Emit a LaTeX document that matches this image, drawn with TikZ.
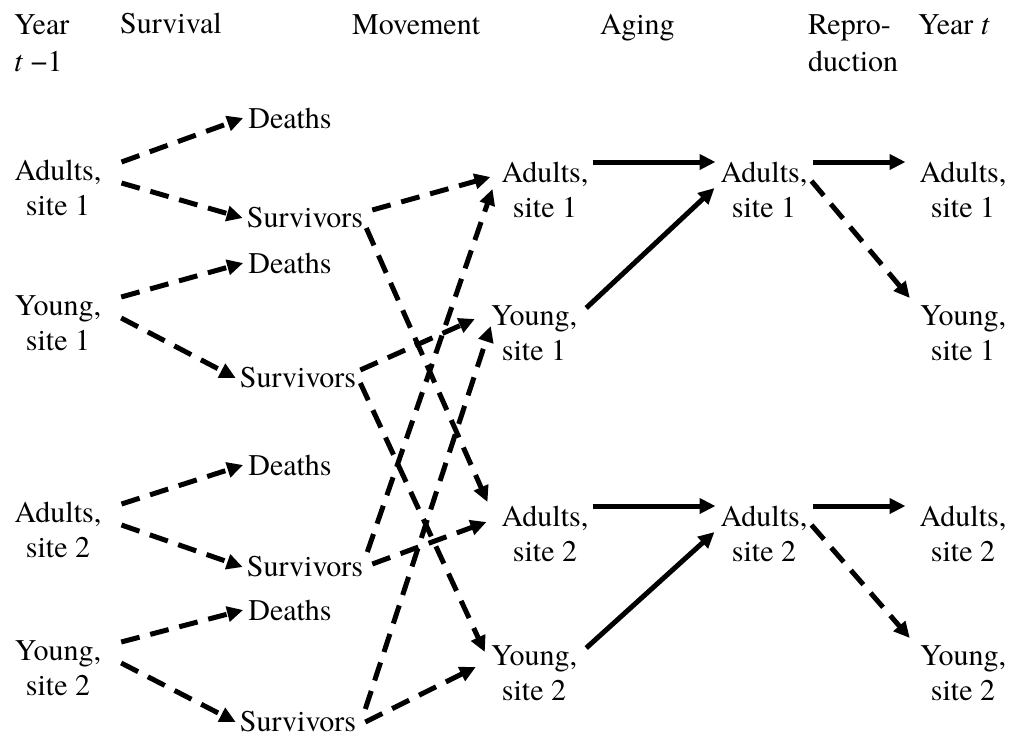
\documentclass[tikz,border=0pt]{standalone}
\usepackage{fontspec}
\setmainfont{texgyretermes-regular.otf}[ItalicFont=texgyretermes-italic.otf]
\usetikzlibrary{arrows.meta}

\begin{document}
\begin{tikzpicture}[x=1pt,y=-1pt,
    lbl/.style={font=\fontsize{30}{35}\selectfont, align=center, inner sep=0pt},
    hdr/.style={font=\fontsize{30}{37}\selectfont, align=left, inner sep=0pt, anchor=north west},
    flow/.style={line width=5pt, -{Triangle[length=16pt,width=15pt]}},
    dflow/.style={flow, dash pattern=on 19pt off 11pt}
  ]
  \useasboundingbox (0,0) rectangle (1012,737);

  % Column headings
  \node[hdr] (hprev) at (14,14) {Year\\\textit{t} −1};
  \node[hdr] (hsurv) at (120,13) {Survival};
  \node[hdr] (hmove) at (352,14) {Movement};
  \node[hdr] (hage) at (600,14) {Aging};
  \node[hdr] (hrep) at (808,14) {Repro-\\duction};
  \node[hdr] (hnext) at (918,14) {Year \textit{t}};

  % Year t-1 and the survival step
  \foreach \i/\y/\who/\s/\yd/\xs/\ys in {1/188/Adults/1/118/305/218, 2/323/Young/1/263/298/378,
      3/530/Adults/2/465/305/567, 4/668/Young/2/610/298/722} {
    \node[lbl] (prev\i) at (58,\y) {\who,\\site \s};
    \node[lbl] (dth\i) at (290,\yd) {Deaths};
    \node[lbl] (surv\i) at (\xs,\ys) {Survivors};
    \draw[dflow] ([xshift=20pt,yshift=26pt]prev\i.east) -- ([xshift=-5pt]dth\i.west);
    \draw[dflow] ([xshift=20pt,yshift=5pt]prev\i.east) -- ([xshift=-4pt]surv\i.west);
  }

  % After movement
  \node[lbl] (mov1) at (545,190) {Adults,\\site 1};
  \node[lbl] (mov2) at (534,333) {Young,\\site 1};
  \node[lbl] (mov3) at (545,534) {Adults,\\site 2};
  \node[lbl] (mov4) at (534,673) {Young,\\site 2};

  % Movement between sites
  \draw[dflow] ([xshift=9pt,yshift=8pt]surv1.east) -- ([xshift=-11pt,yshift=13pt]mov1.west);
  \draw[dflow] ([xshift=3pt,yshift=-10pt]surv1.east) -- ([xshift=-14pt,yshift=32pt]mov3.west);
  \draw[dflow] ([xshift=4pt,yshift=8pt]surv2.east) -- ([xshift=-16pt,yshift=14pt]mov2.west);
  \draw[dflow] ([xshift=4pt,yshift=-5pt]surv2.east) -- ([xshift=-6pt,yshift=21pt]mov4.west);
  \draw[dflow] ([xshift=9pt,yshift=3pt]surv3.east) -- ([xshift=-15pt,yshift=12pt]mov3.west);
  \draw[dflow] ([xshift=4pt,yshift=15pt]surv3.east) -- ([xshift=-9pt,yshift=1pt]mov1.west);
  \draw[dflow] ([xshift=9pt,yshift=13pt]surv4.east) -- ([xshift=0pt,yshift=7pt]mov2.west);
  \draw[dflow] ([xshift=9pt,yshift=0pt]surv4.east) -- ([xshift=-15pt,yshift=6pt]mov4.west);

  % Aging and reproduction
  \node[lbl] (aged1) at (764,190) {Adults,\\site 1};
  \node[lbl] (aged2) at (764,534) {Adults,\\site 2};
  \node[lbl] (next1) at (963,190) {Adults,\\site 1};
  \node[lbl] (next2) at (963,333) {Young,\\site 1};
  \node[lbl] (next3) at (963,534) {Adults,\\site 2};
  \node[lbl] (next4) at (963,673) {Young,\\site 2};

  \foreach \s/\ad/\yg/\na/\ny in {1/mov1/mov2/next1/next2, 2/mov3/mov4/next3/next4} {
    \draw[flow] ([xshift=4pt,yshift=28pt]\ad.east) -- ([xshift=-5pt,yshift=28pt]aged\s.west);
    \draw[flow] ([xshift=9pt,yshift=25pt]\yg.east) -- ([xshift=-6pt,yshift=2pt]aged\s.west);
    \draw[flow] ([xshift=5pt,yshift=28pt]aged\s.east) -- ([xshift=-14pt,yshift=28pt]\na.west);
    \draw[dflow] ([xshift=4pt,yshift=9pt]aged\s.east) -- ([xshift=-10pt,yshift=35pt]\ny.west);
  }
\end{tikzpicture}
\end{document}
